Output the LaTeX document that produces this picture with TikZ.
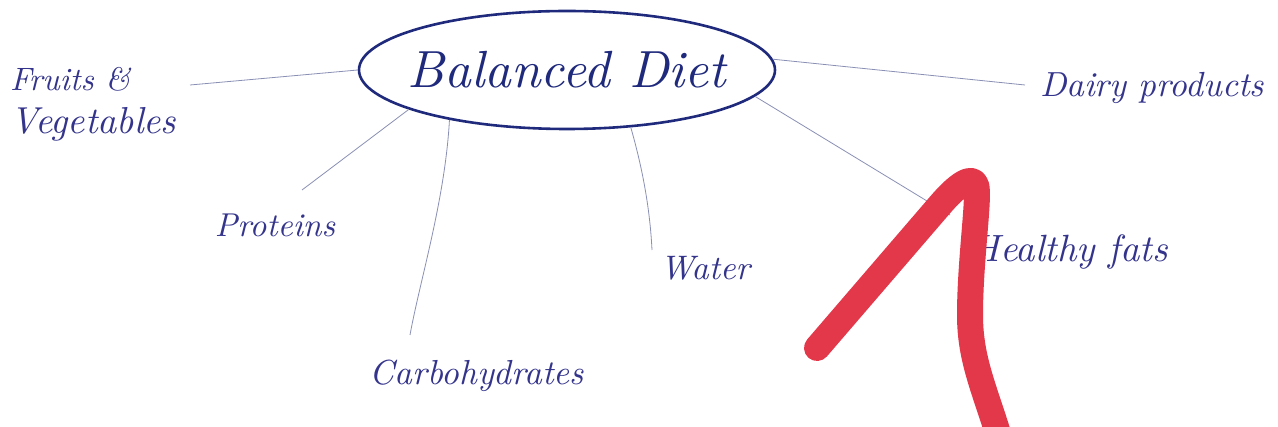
\documentclass[tikz,border=0pt]{standalone}
\usepackage{graphicx}
\usetikzlibrary{shapes.geometric}
\definecolor{ink}{HTML}{1F2A7C}
\definecolor{penblue}{HTML}{34348C}
\definecolor{thinline}{HTML}{8A90B4}
\definecolor{marker}{HTML}{E3374A}
\newcommand{\fitw}[2]{\resizebox{#1}{!}{#2}}
\tikzset{
  label/.style={text=penblue, font=\itshape, inner sep=0pt},
  branch/.style={draw=thinline, line width=0.8pt},
  hub/.style={ellipse, draw=ink, line width=2.6pt, minimum width=416pt, minimum height=118pt, inner sep=0pt}
}
\begin{document}
\begin{tikzpicture}[x=1pt,y=-1pt]
\useasboundingbox[fill=white] (0,0) rectangle (1278,427);
\node[hub] (bd) at (567,70) {};
\node[text=ink, font=\itshape, inner sep=0pt] (title) at (567,70) {\fitw{318pt}{Balanced Diet}};
% labels
\node[label, anchor=west, align=left] (fv) at (10,104) {\fitw{120pt}{Fruits \&}\\[15pt]\fitw{166pt}{Vegetables}};
\node[label] (pr) at (275,225) {\fitw{120pt}{Proteins}};
\node[label] (cb) at (477,376) {\fitw{214pt}{Carbohydrates}};
\node[label] (wa) at (705,268) {\fitw{90pt}{Water}};
\node[label] (hf) at (1070,252) {\fitw{196pt}{Healthy fats}};
\node[label] (dp) at (1152,88) {\fitw{224pt}{Dairy products}};
% connector ends
\coordinate (fvE) at (190,85);
\coordinate (prE) at (302,190);
\coordinate (cbE) at (410,335);
\coordinate (waE) at (652,250);
\coordinate (hfE) at (950,215);
\coordinate (dpE) at (1025,85);
\draw[branch] (bd.180) -- (fvE);
\draw[branch] (bd.194) -- (prE);
\draw[branch] (bd.203) .. controls (445,200) and (420,280) .. (cbE);
\draw[branch] (bd.318) .. controls (643,170) and (650,210) .. (waE);
\draw[branch] (bd.352) -- (hfE);
\draw[branch] (bd.3) -- (dpE);
% red marker stroke
\begin{scope}
\clip (0,0) rectangle (1278,427);
\draw[marker, line width=26pt, line cap=round, line join=round]
  (817,348) -- (940,205)
  .. controls (958,184) and (972,175) .. (976,185)
  .. controls (980,195) and (970,260) .. (970,315)
  .. controls (970,360) and (985,390) .. (1000,440);
\end{scope}
\end{tikzpicture}
\end{document}
